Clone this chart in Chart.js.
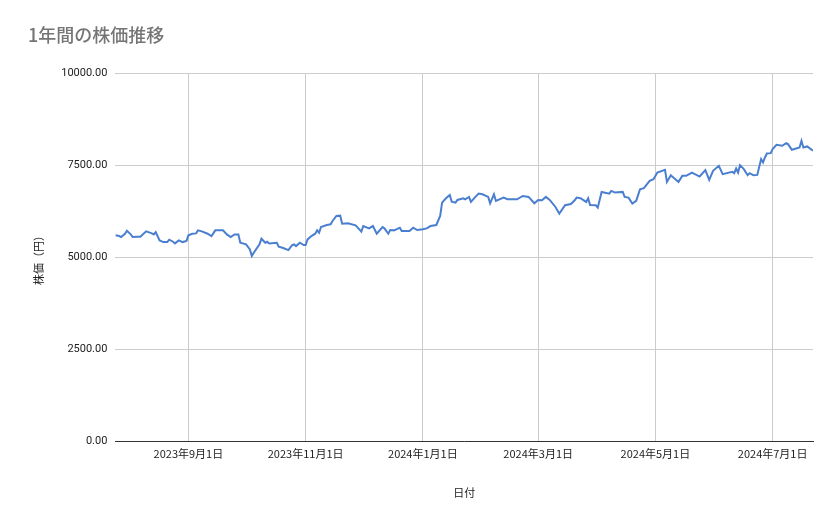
<!DOCTYPE html>
<html>
<head>
<meta charset="utf-8">
<script src="https://cdn.jsdelivr.net/npm/chart.js@4"></script>
<style>
  html, body { margin: 0; padding: 0; background: #fff; }
  #wrap { width: 839px; height: 519px; }
</style>
</head>
<body>
<div id="wrap"><canvas id="priceChart"></canvas></div>
<script>
const dates = [
  '2023-07-25','2023-07-27','2023-07-28','2023-07-30','2023-07-31','2023-08-02','2023-08-03','2023-08-05','2023-08-07','2023-08-10',
  '2023-08-13','2023-08-14','2023-08-15','2023-08-17','2023-08-19','2023-08-21','2023-08-22','2023-08-24','2023-08-25','2023-08-27',
  '2023-08-29','2023-08-31','2023-09-01','2023-09-03','2023-09-05','2023-09-06','2023-09-08','2023-09-11','2023-09-13','2023-09-15',
  '2023-09-19','2023-09-21','2023-09-23','2023-09-25','2023-09-27','2023-09-28','2023-10-01','2023-10-03','2023-10-04','2023-10-05',
  '2023-10-08','2023-10-09','2023-10-11','2023-10-12','2023-10-13','2023-10-17','2023-10-18','2023-10-20','2023-10-23','2023-10-25',
  '2023-10-26','2023-10-27','2023-10-29','2023-10-31','2023-11-01','2023-11-02','2023-11-04','2023-11-06','2023-11-07','2023-11-08',
  '2023-11-09','2023-11-12','2023-11-14','2023-11-15','2023-11-17','2023-11-19','2023-11-20','2023-11-23','2023-11-27','2023-11-30',
  '2023-12-01','2023-12-04','2023-12-06','2023-12-08','2023-12-11','2023-12-12','2023-12-14','2023-12-15','2023-12-17','2023-12-20',
  '2023-12-21','2023-12-25','2023-12-27','2023-12-29','2024-01-01','2024-01-03','2024-01-05','2024-01-08','2024-01-10','2024-01-11',
  '2024-01-13','2024-01-15','2024-01-16','2024-01-18','2024-01-19','2024-01-22','2024-01-23','2024-01-25','2024-01-26','2024-01-28',
  '2024-01-30','2024-02-01','2024-02-04','2024-02-05','2024-02-07','2024-02-08','2024-02-12','2024-02-14','2024-02-19','2024-02-22',
  '2024-02-25','2024-02-28','2024-03-01','2024-03-03','2024-03-05','2024-03-07','2024-03-10','2024-03-12','2024-03-15','2024-03-18',
  '2024-03-20','2024-03-21','2024-03-23','2024-03-26','2024-03-27','2024-03-28','2024-03-31','2024-04-01','2024-04-03','2024-04-07',
  '2024-04-08','2024-04-10','2024-04-14','2024-04-15','2024-04-17','2024-04-19','2024-04-21','2024-04-23','2024-04-25','2024-04-28',
  '2024-04-30','2024-05-02','2024-05-06','2024-05-07','2024-05-09','2024-05-13','2024-05-15','2024-05-17','2024-05-20','2024-05-24',
  '2024-05-27','2024-05-29','2024-05-31','2024-06-03','2024-06-05','2024-06-10','2024-06-11','2024-06-12','2024-06-13','2024-06-14',
  '2024-06-16','2024-06-18','2024-06-19','2024-06-21','2024-06-23','2024-06-25','2024-06-26','2024-06-27','2024-06-28','2024-06-30',
  '2024-07-01','2024-07-03','2024-07-06','2024-07-08','2024-07-09','2024-07-11','2024-07-15','2024-07-16','2024-07-17','2024-07-19',
  '2024-07-22'
];
const prices = [
  5605,5586,5559,5649,5731,5631,5559,5567,5567,5713,
  5658,5631,5695,5468,5422,5422,5486,5431,5386,5468,
  5422,5450,5605,5649,5658,5740,5713,5649,5586,5740,
  5740,5631,5559,5631,5631,5404,5359,5222,5041,5131,
  5359,5513,5404,5431,5386,5404,5295,5268,5204,5340,
  5359,5313,5404,5340,5340,5495,5586,5649,5740,5676,
  5831,5886,5904,5995,6131,6140,5922,5931,5877,5704,
  5858,5795,5858,5649,5831,5795,5649,5749,5740,5813,
  5722,5722,5813,5749,5768,5795,5858,5886,6131,6494,
  6612,6703,6521,6494,6567,6612,6585,6649,6512,6630,
  6739,6721,6649,6476,6721,6540,6630,6585,6585,6676,
  6649,6476,6567,6558,6649,6567,6376,6194,6422,6455,
  6558,6630,6612,6512,6612,6430,6422,6358,6785,6739,
  6812,6767,6785,6649,6630,6467,6540,6858,6885,7084,
  7130,7312,7384,7057,7239,7057,7221,7221,7312,7203,
  7375,7112,7357,7493,7267,7330,7294,7420,7312,7512,
  7403,7239,7294,7239,7248,7676,7585,7720,7829,7839,
  7948,8065,8038,8111,8084,7929,7992,8174,7992,8020,
  7902
];
const tickDates = ['2023-09-01','2023-11-01','2024-01-01','2024-03-01','2024-05-01','2024-07-01'];
const yTicks = [0, 2500, 5000, 7500, 10000];

const toMs = s => Date.parse(s + 'T00:00:00Z');
const fmtDate = ms => {
  const d = new Date(ms);
  return d.getUTCFullYear() + '年' + (d.getUTCMonth() + 1) + '月' + d.getUTCDate() + '日';
};

Chart.defaults.font.family = 'Roboto, "Noto Sans CJK JP", sans-serif';
Chart.defaults.color = '#222';

const ctx = document.getElementById('priceChart').getContext('2d');
new Chart(ctx, {
  type: 'line',
  data: {
    datasets: [{
      label: '株価',
      data: dates.map((d, i) => ({ x: toMs(d), y: prices[i] })),
      borderColor: '#4a7fd0',
      borderWidth: 2,
      pointRadius: 0,
      tension: 0,
      fill: false
    }]
  },
  options: {
    responsive: true,
    maintainAspectRatio: false,
    animation: false,
    layout: { padding: { left: 28, right: 26, top: 0, bottom: 16 } },
    plugins: {
      legend: { display: false },
      tooltip: { enabled: false },
      title: {
        display: true,
        text: '1年間の株価推移',
        align: 'start',
        color: '#757575',
        font: { size: 18, weight: '500', family: '"Noto Sans CJK JP", sans-serif' },
        padding: { top: 24, bottom: 28 }
      }
    },
    scales: {
      x: {
        type: 'linear',
        min: toMs(dates[0]),
        max: toMs(dates[dates.length - 1]),
        afterBuildTicks: axis => { axis.ticks = tickDates.map(d => ({ value: toMs(d) })); },
        ticks: {
          callback: v => fmtDate(v),
          maxRotation: 0,
          autoSkip: false,
          font: { size: 11, family: '"Noto Sans CJK JP", sans-serif' },
          color: '#222',
          padding: 6
        },
        grid: { color: '#cccccc', drawTicks: false },
        border: { color: '#333', width: 1 },
        title: {
          display: true,
          text: '日付',
          font: { size: 11, family: '"Noto Sans CJK JP", sans-serif' },
          color: '#222',
          padding: { top: 19 }
        }
      },
      y: {
        min: 0,
        max: 10000,
        afterBuildTicks: axis => { axis.ticks = yTicks.map(v => ({ value: v })); },
        ticks: {
          callback: v => v.toFixed(2),
          font: { size: 11 },
          color: '#222',
          padding: 8
        },
        grid: { color: '#cccccc', drawTicks: false },
        border: { display: false },
        title: {
          display: true,
          text: '株価（円）',
          font: { size: 11, family: '"Noto Sans CJK JP", sans-serif' },
          color: '#222',
          padding: { bottom: 8 }
        }
      }
    }
  }
});
</script>
</body>
</html>
